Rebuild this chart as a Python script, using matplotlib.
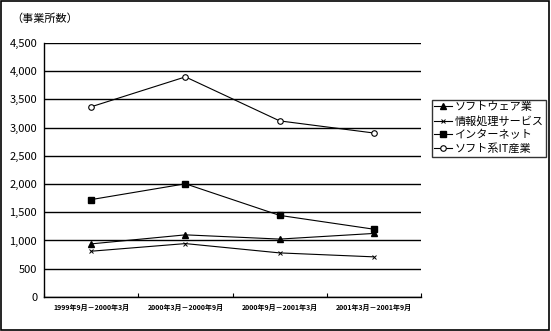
import matplotlib.pyplot as plt
from matplotlib.patches import Rectangle

plt.rcParams['font.family'] = ['Noto Sans CJK JP', 'DejaVu Sans']

periods = ['1999年9月－2000年3月', '2000年3月－2000年9月',
           '2000年9月－2001年3月', '2001年3月－2001年9月']
software = [940, 1100, 1025, 1125]
info_service = [810, 945, 780, 710]
internet = [1725, 2005, 1445, 1200]
soft_it = [3370, 3900, 3120, 2905]

yticks = list(range(0, 4501, 500))

fig = plt.figure(figsize=(5.51, 3.31), dpi=100)
fig.patches.append(Rectangle((0.002, 0.003), 0.995, 0.994, transform=fig.transFigure,
                             fill=False, edgecolor='black', linewidth=1.2))
ax = fig.add_axes([0.08, 0.103, 0.684, 0.767])

x = range(len(periods))
ax.plot(x, software, color='black', lw=0.8, marker='^', ms=5, mfc='black', label='ソフトウェア業')
ax.plot(x, info_service, color='black', lw=0.8, marker='x', ms=3.5, mew=0.7, label='情報処理サービス')
ax.plot(x, internet, color='black', lw=0.8, marker='s', ms=4.5, mfc='black', label='インターネット')
ax.plot(x, soft_it, color='black', lw=0.8, marker='o', ms=4, mfc='white', mew=0.8, label='ソフト系IT産業')

ax.set_xlim(-0.5, len(periods) - 0.5)
ax.set_ylim(0, 4500)
ax.set_yticks(yticks)
ax.set_yticklabels([f'{v:,}' for v in yticks], fontsize=8)
ax.yaxis.grid(True, color='black', lw=1.0)
ax.set_axisbelow(True)
ax.tick_params(axis='y', length=0, pad=5)

ax.set_xticks([i - 0.5 for i in range(len(periods) + 1)], minor=False)
ax.set_xticklabels([])
ax.set_xticks(list(x), minor=True)
ax.set_xticklabels(periods, minor=True, fontsize=5, fontweight='bold')
ax.tick_params(axis='x', which='major', length=3, direction='in', color='black')
ax.tick_params(axis='x', which='minor', length=0, pad=5)

for side in ['top', 'right']:
    ax.spines[side].set_visible(False)
ax.spines['left'].set_linewidth(1.0)
ax.spines['bottom'].set_linewidth(1.0)

fig.text(0.02, 0.945, '（事業所数）', fontsize=8, ha='left', va='center')

leg = ax.legend(loc='upper left', bbox_to_anchor=(1.03, 0.775), fontsize=8,
                frameon=True, fancybox=False, edgecolor='black', handlelength=1.6,
                handletextpad=0.2, borderpad=0.2, labelspacing=0.3, borderaxespad=0)
leg.get_frame().set_linewidth(1.0)

fig.savefig('out.png', dpi=100)
